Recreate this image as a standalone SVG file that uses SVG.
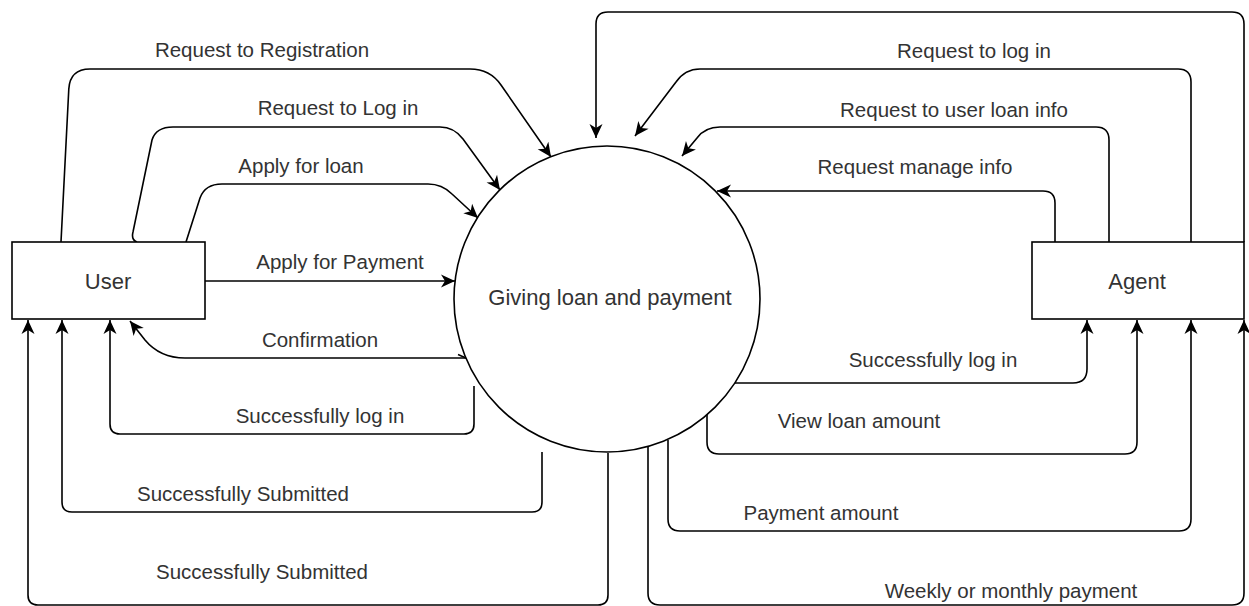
<svg xmlns="http://www.w3.org/2000/svg" width="1249" height="606" viewBox="0 0 1249 606">
  <style>
    .node { fill: #ffffff; stroke: #000000; stroke-width: 1.6; }
    .flow { fill: none; stroke: #000000; stroke-width: 1.6; marker-end: url(#arrow); }
    .tick { fill: none; stroke: #000000; stroke-width: 1.4; }
    .lbl { font-family: "Liberation Sans", Arial, sans-serif; font-size: 20.5px; fill: #333333; text-anchor: middle; }
    .big { font-size: 22px; }
  </style>
  <defs>
    <marker id="arrow" viewBox="-15 -8 16 16" refX="0" refY="0" markerWidth="16" markerHeight="16" markerUnits="userSpaceOnUse" orient="auto">
      <path d="M0,0 L-14,-6.5 L-10,0 L-14,6.5 Z" fill="#000000"/>
    </marker>
  </defs>
  <rect width="1249" height="606" fill="#ffffff"/>

  <!-- data flows -->
  <g id="connectors">
    <!-- User to process -->
    <path class="flow" d="M61,242 L68.8,89 Q70,69 90,69 L470,69 Q490,69 501,85 L551,157"/>
    <path class="flow" d="M137,242 Q131,240 133,232 L152,140 Q156,127 173,127 L440,127 Q454,127 463,139 L500,190"/>
    <path class="flow" d="M186,242 L200,198 Q205,184 222,184 L428,184 Q442,184 452,194 L478,218"/>
    <path class="flow" d="M205,281 L455,281"/>
    <!-- process to User -->
    <path class="flow" d="M467,358 L185,358 Q160,358 145,340 L130,321"/>
    <path class="tick" d="M458,354.5 L466,358"/>
    <path class="flow" d="M474,386 L474,424 Q474,434 464,434 L120,434 Q110,434 110,424 L110,320"/>
    <path class="flow" d="M542,452 L542,502 Q542,512 532,512 L72,512 Q62,512 62,502 L62,320"/>
    <path class="flow" d="M608,453 L608,595 Q608,605 598,605 L38,605 Q28,605 28,595 L28,320"/>
    <!-- Agent to process -->
    <path class="flow" d="M1244,242 L1244,24 Q1244,12 1232,12 L608,12 Q596,12 596,24 L596,138"/>
    <path class="flow" d="M1191,242 L1191,82 Q1191,69 1178,69 L700,69 Q685,69 676,82 L635,136"/>
    <path class="flow" d="M1109,242 L1109,140 Q1109,127 1096,127 L720,127 Q705,127 697,138 L682,156"/>
    <path class="flow" d="M1055,242 L1055,203 Q1055,191 1043,191 L717,191"/>
    <!-- process to Agent -->
    <path class="flow" d="M735,383 L1073,383 Q1087,383 1087,369 L1087,320"/>
    <path class="flow" d="M707,415 L707,442 Q707,454 719,454 L1125,454 Q1137,454 1137,442 L1137,320"/>
    <path class="flow" d="M668,440 L668,519 Q668,531 680,531 L1179,531 Q1191,531 1191,519 L1191,320"/>
    <path class="flow" d="M648,446 L648,593 Q648,605 660,605 L1232,605 Q1244,605 1244,593 L1244,320"/>
  </g>

  <g id="flow-labels">
    <text class="lbl" x="262" y="57">Request to Registration</text>
    <text class="lbl" x="338" y="115">Request to Log in</text>
    <text class="lbl" x="301" y="173">Apply for loan</text>
    <text class="lbl" x="340" y="269">Apply for Payment</text>
    <text class="lbl" x="320" y="347">Confirmation</text>
    <text class="lbl" x="320" y="423">Successfully log in</text>
    <text class="lbl" x="243" y="501">Successfully Submitted</text>
    <text class="lbl" x="262" y="579">Successfully Submitted</text>
    <text class="lbl" x="974" y="58">Request to log in</text>
    <text class="lbl" x="954" y="117">Request to user loan info</text>
    <text class="lbl" x="915" y="174">Request manage info</text>
    <text class="lbl" x="933" y="367">Successfully log in</text>
    <text class="lbl" x="859" y="428">View loan amount</text>
    <text class="lbl" x="821" y="520">Payment amount</text>
    <text class="lbl" x="1011" y="598">Weekly or monthly payment</text>
  </g>

  <g id="user">
    <rect class="node" x="12" y="242" width="193" height="77"/>
    <text class="lbl big" x="108" y="289">User</text>
  </g>

  <g id="process">
    <circle class="node" cx="607" cy="299" r="153"/>
    <text class="lbl big" x="610" y="305">Giving loan and payment</text>
  </g>

  <g id="agent">
    <rect class="node" x="1032" y="242" width="212" height="77"/>
    <text class="lbl big" x="1137" y="289">Agent</text>
  </g>
</svg>
